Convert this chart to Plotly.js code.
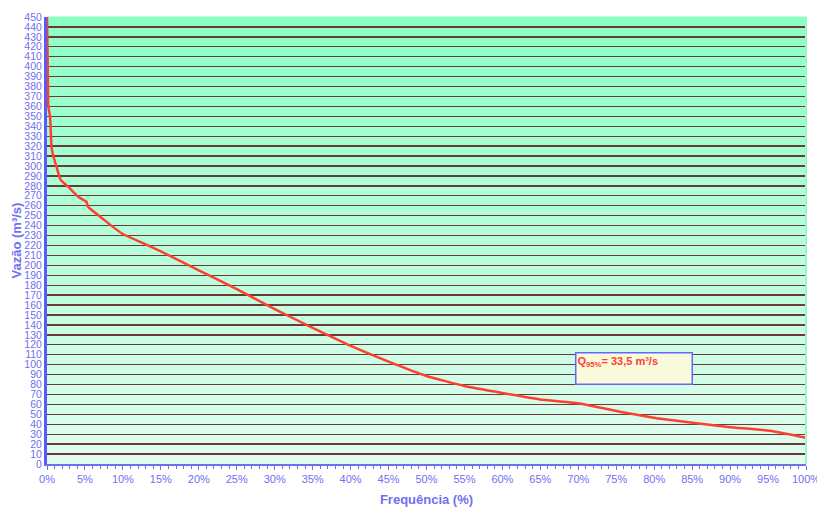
<!DOCTYPE html>
<html>
<head>
<meta charset="utf-8">
<script src="https://cdn.plot.ly/plotly-3.0.1.min.js"></script>
<style>html,body{margin:0;padding:0;background:#fff;}#chart{width:817px;height:507px;}</style>
</head>
<body>
<div id="chart"></div>
<script>
// Curva de permanência
const frequencia = [0, 0.1, 0.17, 0.4, 0.6, 0.8, 1.3, 1.8, 2.8, 4.1, 5.2, 5.4, 7.0, 8.3, 10.0, 13.3, 15, 20, 25, 30, 35, 40, 45, 50, 55, 60, 65, 70.2, 75.5, 80.3, 85.6, 90, 95.3, 100];
const vazao = [450, 400, 360, 350, 319, 311, 298, 286, 279, 269, 264, 259, 249, 241, 231.5, 220, 214, 195, 176, 156, 137, 119, 103, 88.6, 78.5, 71.5, 65, 61, 52.7, 46, 41, 37, 33.5, 26.5];
const xTickVals = [0,5,10,15,20,25,30,35,40,45,50,55,60,65,70,75,80,85,90,95,100];
const yTickVals = [0,10,20,30,40,50,60,70,80,90,100,110,120,130,140,150,160,170,180,190,200,210,220,230,240,250,260,270,280,290,300,310,320,330,340,350,360,370,380,390,400,410,420,430,440,450];
const annotText = 'Q<sub>95%</sub>= 33,5 m³/s';

const blue = '#6f6ff2';
const fontFam = 'Liberation Sans Narrow, Arial Narrow, Liberation Sans, Arial, sans-serif';

// gradient background bands (styling)
const shapes = [];
const topCol = [138,255,198], botCol = [224,253,240];
const nb = 90;
for (let i = 0; i < nb; i++) {
  const t = i/(nb-1);
  const c = topCol.map((v,k)=>Math.round(v + (botCol[k]-v)*t));
  shapes.push({type:'rect', xref:'paper', yref:'paper', x0:0, x1:1, y0:1-(i+1)/nb, y1:1-i/nb+0.001,
    fillcolor:`rgb(${c[0]},${c[1]},${c[2]})`, line:{width:0}, layer:'below'});
}
shapes.push({type:'line', xref:'paper', yref:'paper', x0:1, x1:1, y0:0, y1:1, line:{color:'#9ff5c8', width:2}});

const data = [{
  x: frequencia, y: vazao, type:'scatter', mode:'lines',
  line:{color:'#ff4030', width:2.5, shape:'spline', smoothing:0.3},
  hoverinfo:'skip'
}];

const layout = {
  width:817, height:507,
  margin:{l:47, r:11, t:17, b:43},
  paper_bgcolor:'#ffffff', plot_bgcolor:'rgba(0,0,0,0)',
  showlegend:false,
  shapes: shapes,
  xaxis:{
    range:[0,100], tickvals:xTickVals, ticktext:xTickVals.map(v=>v+'%'),
    showgrid:false, zeroline:false,
    showline:true, linecolor:blue, linewidth:1.5,
    ticks:'outside', ticklen:4, tickcolor:blue, tickwidth:1,
    minor:{dtick:1, ticks:'outside', ticklen:3, tickcolor:blue, tickwidth:1, showgrid:false},
    tickfont:{family:fontFam, size:11, color:blue},
    ticklabeloverflow:'allow',
    title:{text:'<b>Frequência (%)</b>', font:{family:fontFam, size:13, color:blue}, standoff:12},
    fixedrange:true
  },
  yaxis:{
    range:[0,450], tickvals:yTickVals,
    showgrid:true, gridcolor:'#6b3a34', gridwidth:1.3,
    zeroline:false,
    showline:true, linecolor:'#5a5af5', linewidth:3,
    ticks:'', tickfont:{family:fontFam, size:10.5, color:blue},
    title:{text:'<b>Vazão (m³/s)</b>', font:{family:fontFam, size:13, color:blue}, standoff:0},
    fixedrange:true
  },
  annotations:[{
    x:69.5, y:112.5, xref:'x', yref:'y', xanchor:'left', yanchor:'top',
    text:'<b>'+annotText+'</b>', showarrow:false,
    align:'left', valign:'top', width:113, height:28,
    bgcolor:'#f9f9dc', bordercolor:'#6666ff', borderwidth:1.5, borderpad:1,
    font:{family:fontFam, size:11, color:'#ff4030'}
  }]
};

Plotly.newPlot('chart', data, layout, {displayModeBar:false, staticPlot:true});
</script>
</body>
</html>
